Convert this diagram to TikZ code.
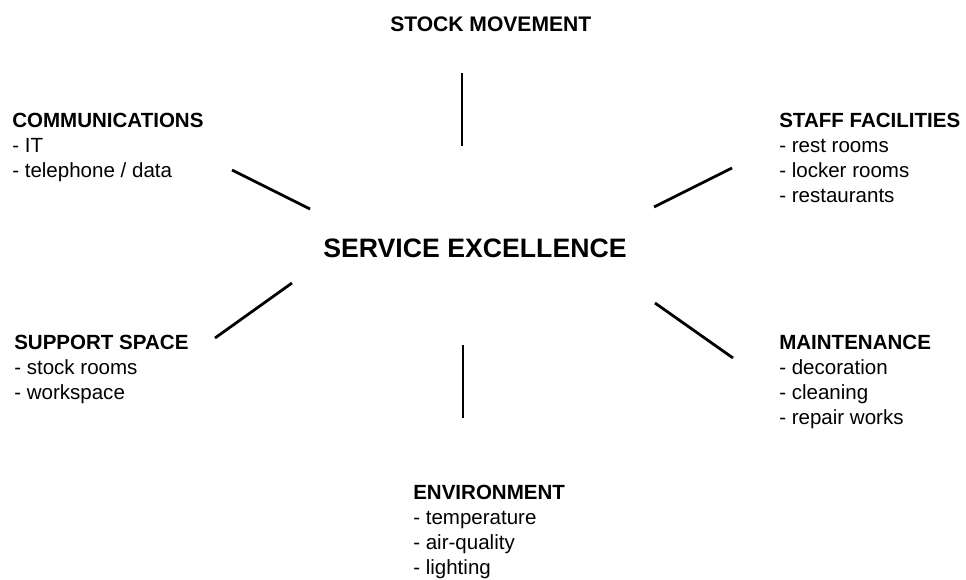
\documentclass[tikz,border=0pt]{standalone}
\usepackage{fontspec}
\setmainfont{Liberation Sans}
\begin{document}
\begin{tikzpicture}[x=0.75pt,y=-0.75pt,
  lbl/.style={anchor=north west,inner sep=0pt,align=left,font=\fontsize{15.4}{18.7}\selectfont},
  ttl/.style={anchor=base west,inner sep=0pt,font=\fontsize{15.8}{18.7}\selectfont\bfseries},
  big/.style={anchor=base,inner sep=0pt,font=\fontsize{20}{24}\selectfont\bfseries},
  spoke/.style={line width=2.1pt}]
\useasboundingbox (0,0) rectangle (966,579);
\node[ttl] (stock) at (390,31) {STOCK MOVEMENT};
\node[big] (center) at (475,257) {SERVICE EXCELLENCE};
\node[lbl] (comm) at (12,113) {\textbf{COMMUNICATIONS}\\- IT\\- telephone / data};
\node[lbl] (staff) at (779,113) {\textbf{STAFF FACILITIES}\\- rest rooms\\- locker rooms\\- restaurants};
\node[lbl] (support) at (14,335) {\textbf{SUPPORT SPACE}\\- stock rooms\\- workspace};
\node[lbl] (maint) at (779,335) {\textbf{MAINTENANCE}\\- decoration\\- cleaning\\- repair works};
\node[lbl] (env) at (413,485) {\textbf{ENVIRONMENT}\\- temperature\\- air-quality\\- lighting};
\coordinate (t1) at (462,73);  \coordinate (t2) at (462,146);
\coordinate (ul1) at (232,170); \coordinate (ul2) at (310,209);
\coordinate (ur1) at (654,207); \coordinate (ur2) at (732,168);
\coordinate (ll1) at (215,338); \coordinate (ll2) at (292,283);
\coordinate (lr1) at (655,303); \coordinate (lr2) at (733,358);
\coordinate (b1) at (463,345); \coordinate (b2) at (463,418);
\draw[spoke] (t1) -- (t2);
\draw[spoke] (ul1) -- (ul2);
\draw[spoke] (ur1) -- (ur2);
\draw[spoke] (ll1) -- (ll2);
\draw[spoke] (lr1) -- (lr2);
\draw[spoke] (b1) -- (b2);
\end{tikzpicture}
\end{document}
